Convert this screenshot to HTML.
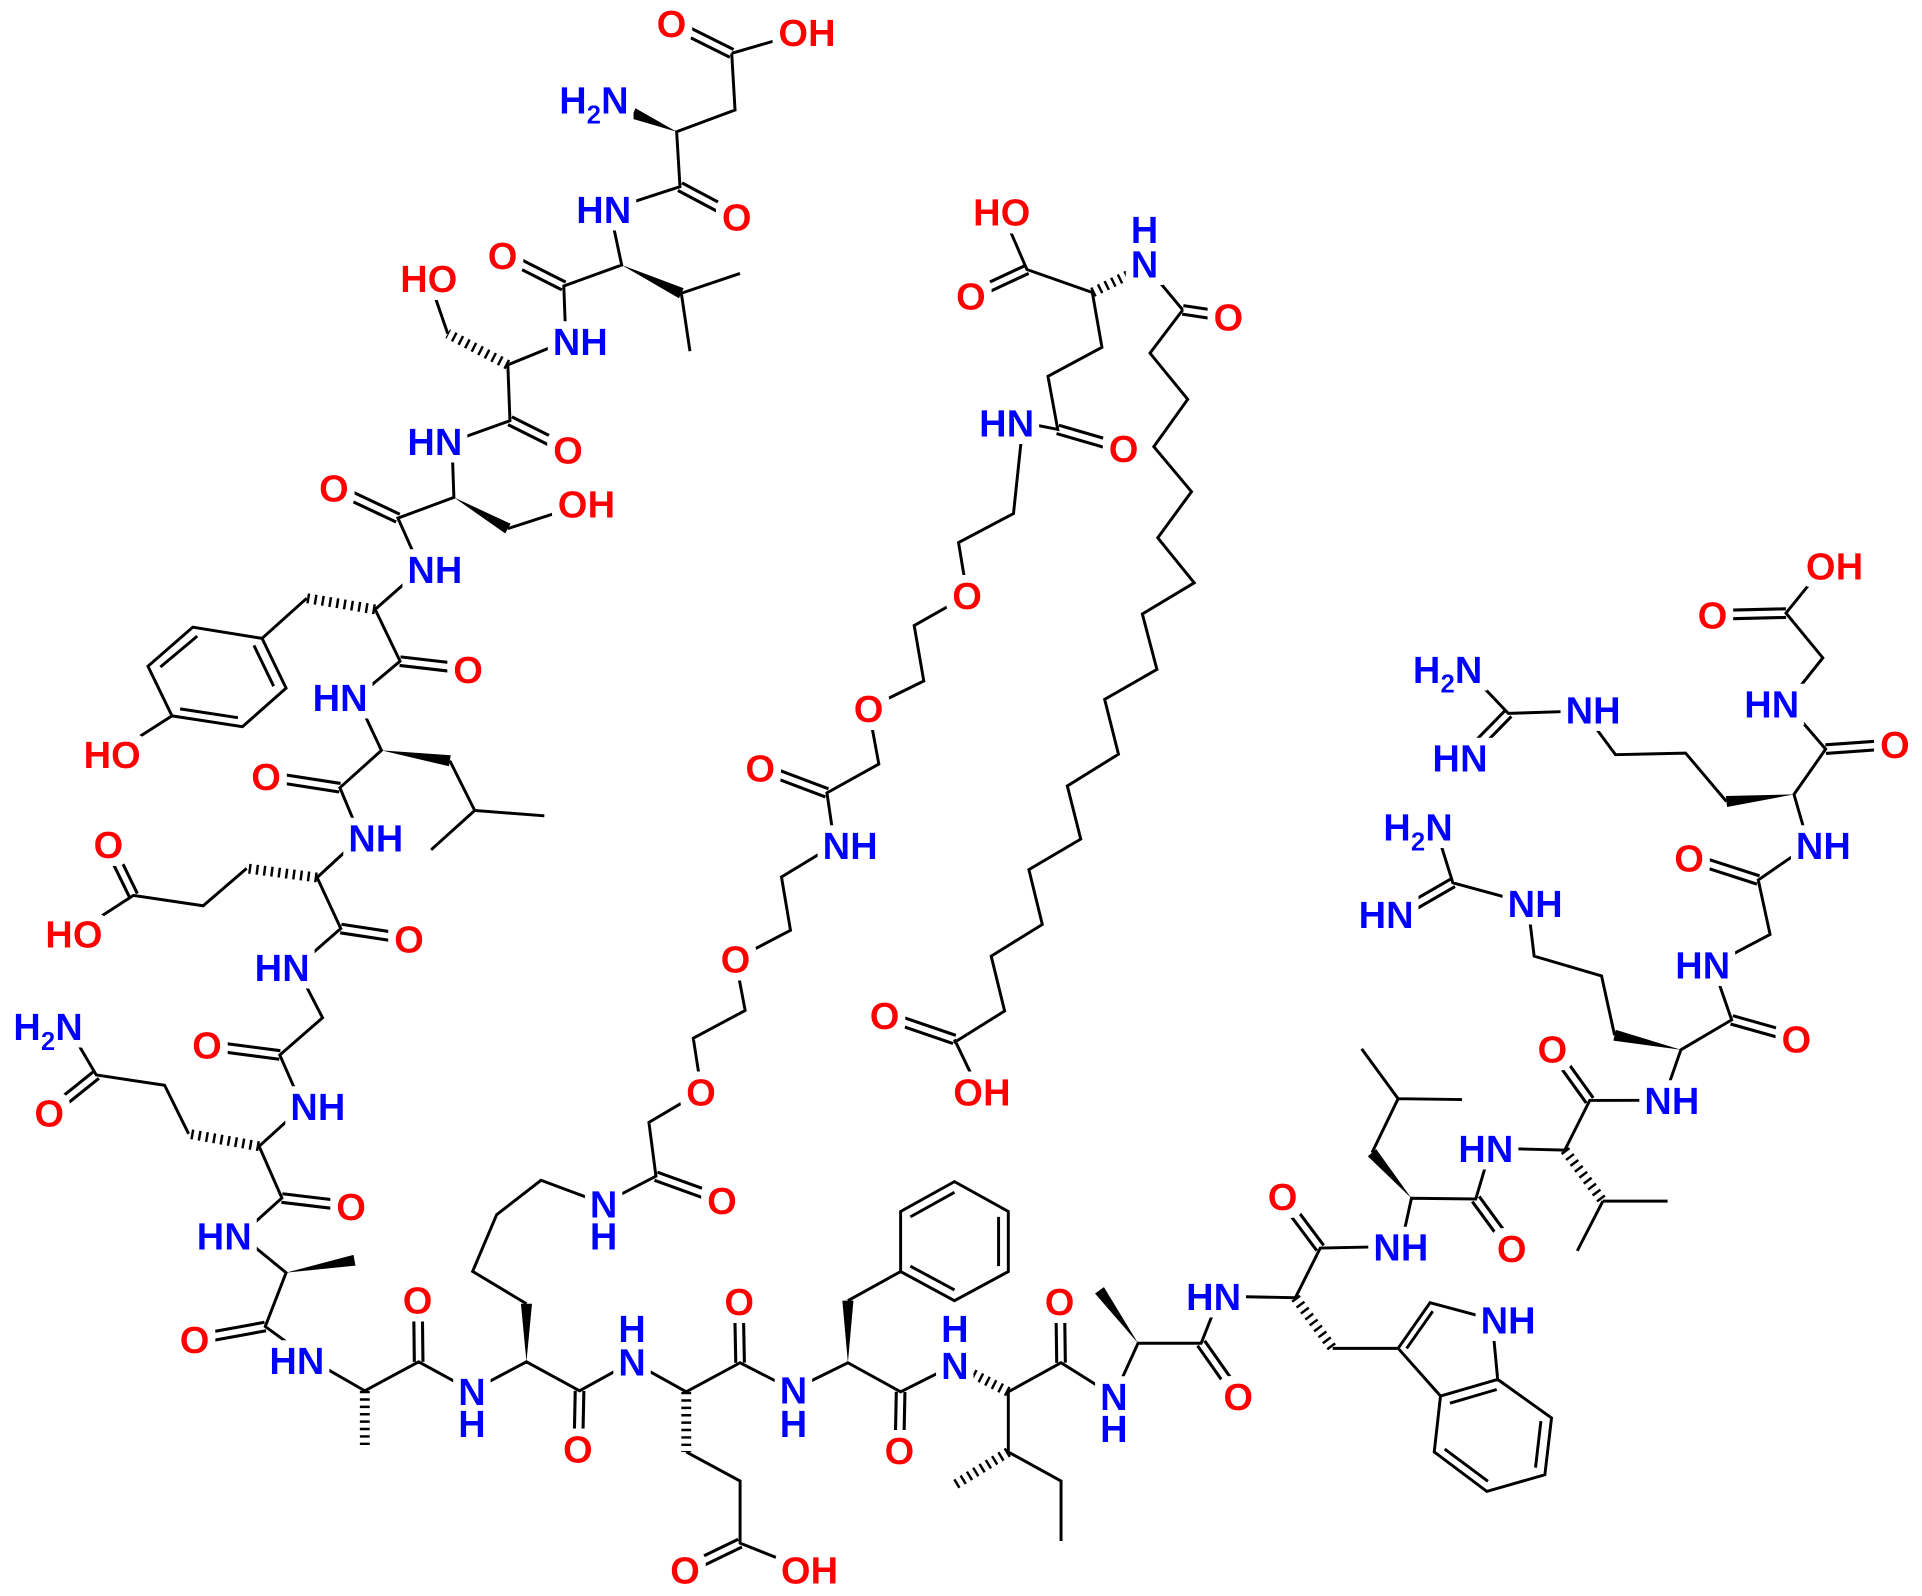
<!DOCTYPE html>
<html><head><meta charset="utf-8"><style>
html,body{margin:0;padding:0;background:#fff;}
svg{display:block;}
text{font-family:"Liberation Sans",Arial,sans-serif;font-weight:bold;font-size:31px;text-anchor:middle;}
.r{fill:#f00}.b{fill:#00f}
</style></head><body>
<svg width="1922" height="1596" viewBox="0 0 1560 1295.3" preserveAspectRatio="none" xmlns="http://www.w3.org/2000/svg">
<defs>
<filter id="halo" filterUnits="userSpaceOnUse" x="0" y="0" width="1560" height="1296">
<feMorphology in="SourceAlpha" operator="dilate" radius="6" result="d"/>
<feFlood flood-color="#fff"/>
<feComposite in2="d" operator="in" result="w"/>
<feMerge><feMergeNode in="w"/><feMergeNode in="SourceGraphic"/></feMerge>
</filter>
</defs>
<g fill="none" stroke-linecap="butt">
<path stroke="#000" stroke-width="9.5" d="
M593.9,43.3L545,19 M551.9,151.5L598,176 M457.6,232.1L408,207 M413.9,341.5L461,365 M323,420.5L271,396
M324.7,536.6L380,543 M275.9,639.3L216,630 M108.3,726.7L88,685 M276.6,753.6L332,762 M227.1,856.2L168,848.5
M78.1,872.4L40,903 M228.8,972.3L285,979 M215.3,1076.6L158,1087 M339.8,1105.2L339.2,1055 M470.4,1128.8L469.4,1176
M532.4,954.6L585.6,973.8 M671.2,643.5L616.6,622.9 M858.5,348.5L911.6,363.9 M833.5,218.7L788.3,239.8 M960,251.5L997.4,257.1
M774.7,843.6L718.5,824.4 M600.7,1106L599.7,1056 M600.7,1252.4L556,1274 M731,1129.6L730,1177 M861.2,1106L860.5,1056
M974.9,1090.2L1005,1133 M1071.6,1012.9L1040.6,971.5 M1197.8,973.1L1227,1013 M1290.3,893.1L1260,851 M1405.5,827.7L1458.5,842.6
M1179.2,716.5L1135,742 M1427.1,714.2L1370.7,696 M1481.8,608L1538,604 M1224.2,579L1190,614 M1449.6,497.6L1390,499"/>
<path stroke="#fff" stroke-width="4.5" d="
M593.9,43.3L545,19 M551.9,151.5L598,176 M457.6,232.1L408,207 M413.9,341.5L461,365 M323,420.5L271,396
M324.7,536.6L380,543 M275.9,639.3L216,630 M108.3,726.7L88,685 M276.6,753.6L332,762 M227.1,856.2L168,848.5
M78.1,872.4L40,903 M228.8,972.3L285,979 M215.3,1076.6L158,1087 M339.8,1105.2L339.2,1055 M470.4,1128.8L469.4,1176
M532.4,954.6L585.6,973.8 M671.2,643.5L616.6,622.9 M858.5,348.5L911.6,363.9 M833.5,218.7L788.3,239.8 M960,251.5L997.4,257.1
M774.7,843.6L718.5,824.4 M600.7,1106L599.7,1056 M600.7,1252.4L556,1274 M731,1129.6L730,1177 M861.2,1106L860.5,1056
M974.9,1090.2L1005,1133 M1071.6,1012.9L1040.6,971.5 M1197.8,973.1L1227,1013 M1290.3,893.1L1260,851 M1405.5,827.7L1458.5,842.6
M1179.2,716.5L1135,742 M1427.1,714.2L1370.7,696 M1481.8,608L1538,604 M1224.2,579L1190,614 M1449.6,497.6L1390,499"/>
<path stroke="#000" stroke-width="2.4" stroke-linejoin="miter" d="
M593.9,43.3L653,26 M593.9,43.3L596.6,89.3L549.2,106.9L551.9,151.5L495,170
M495,170L504.6,215.1L457.6,232.1L459.3,277 M553,238L600.6,221.9 M553,238L560,285
M459.3,277L412.2,296.1 M348,226L363.4,270.8 M412.2,296.1L413.9,341.5L366.8,358.3
M366.8,358.3L368.4,403.7L323,420.5L341.5,462 M412.2,429L474,409
M341.5,462L304.5,494.6L324.7,536.6L289.4,566.2 M249,485.5L212.7,518.1
M212.7,518.1L156.5,509L120.1,540.7L139.6,581L196.8,589.8L232.2,558.5Z
M160.1,516.3L130.2,541.3 M146.2,575.3L193.1,582.5 M222.1,556.9L206.1,523.8 M139.6,581L91,612
M289.4,566.2L309.6,609L275.9,639.3L292.7,679.6 M365.1,617.4L385.3,657.8L441.8,662.1 M385.3,657.8L349.9,689.7
M292.7,679.6L257.4,712.2L276.6,753.6L240.6,785 M200.2,704.8L164.9,735.1L108.3,726.7L60,758
M240.6,785L261.8,826L227.1,856.2L245.6,898.3
M245.6,898.3L210.3,930.3L228.8,972.3L195.2,1002.6 M153.1,920.2L133.6,880.8L78.1,872.4L53.8,831
M195.2,1002.6L232.2,1032.9L215.3,1076.6L252.4,1103.6
M252.4,1103.6L296.1,1128.8L339.8,1105.2L382.9,1128.8
M382.9,1128.8L427.3,1105.2L470.4,1128.8L513.1,1105.2 M427.3,1058.1L383.6,1031.9L403.1,985.8L439.1,957.9L489.6,976.7
M489.6,976.7L532.4,954.6L526.7,910.9L569.4,885.7L562.7,842.6L604.8,820.1L596.9,778.4L641.6,755L634.3,711.8L677.4,685.6L671.2,643.5L713.3,620.1L704.9,574.7L749.8,552.7L742,507.7L785.1,483.3L778,440.3L822.6,416.8L830.4,342.9L858.5,348.5L850.6,305.4L894.4,281.9L886.6,237.4L833.5,218.7L813.2,171.8
M928.7,214L960,251.5
M960,251.5L933.4,286.6L964,324.1L936.5,362.5L967.1,399L939.7,436.5L969.3,473L927.2,498.3L939,543.3L896.6,567.6L907.8,612.1L866.3,637.9L877.2,681L835.1,705.8L846,750.3L804.5,776L815.4,820.5L774.2,846.3
M774.7,843.6L794.9,885.7
M513.1,1105.2L557,1129.6L600.7,1106L643.5,1128 M557,1178.4L600.7,1202L600.7,1252.4L655,1274
M643.5,1128L688.2,1106L731,1129.6L774.7,1107.7 M688.2,1055.6L731,1032
M731,1032L731,983.2L774.7,959L818.4,983.2L818.4,1032L774.7,1055.6Z
M738.9,987.6L774.7,967.7 M810.5,987.6L810.5,1027.6 M774.7,1046.9L738.9,1027.6
M818.4,1129.6L818.4,1178.4L861.2,1202L861.2,1250.7 M818.4,1129.6L861.2,1106L904.2,1133
M904.2,1133L923.7,1090.2L974.9,1090.2L990,1052
M990,1052L1051.4,1053.2L1071.6,1012.9L1125,1011.8 M1081.7,1094.3L1134.8,1094.3
M1134.8,1094.3L1160.7,1057.3L1211,1070.7L1215.6,1119.5L1169.2,1133Z
M1141.7,1094.4L1162.9,1064.2
M1169.2,1133L1164.1,1178.4L1206.8,1210.4L1253.9,1196.9L1259.3,1150.8L1215.6,1119.5
M1214.8,1127.7L1176.9,1138.8 M1172.6,1176L1207.7,1202.2 M1246.3,1191.1L1250.7,1153.3
M1137,1011.8L1145.6,972.5L1197.8,973.1L1210,932 M1113.6,935.5L1134.8,891.7L1105.2,851.3 M1134.8,891.7L1186.6,892.4
M1215,932L1270.1,933.4L1290.3,893.1L1350,893 M1301,974.8L1353.5,974.8 M1301,974.8L1280.2,1015.2
M1350,893L1364.3,852L1405.5,827.7L1390,783 M1310.5,840.2L1299.9,792.1L1245.2,776L1240,733L1179.2,716.5L1165,671
M1390,783L1436.7,758.4L1427.1,714.2L1468,686
M1468,686L1456.1,644.7L1481.8,608L1450,571 M1401.3,650.5L1368.1,611.2L1311.2,612.5L1285,577L1224.2,579L1190,543
M1450,571L1479.5,533.9L1449.6,497.6L1480,460"/>
<path stroke="#000" stroke-width="8" stroke-dasharray="2 4" d="
M412.2,296.1L363.4,270.8 M304.5,494.6L249,485.5 M257.4,712.2L200.2,704.8 M210.3,930.3L153.1,920.2
M296.1,1128.8L296.1,1175.9 M557,1129.6L557,1178.4 M818.4,1129.6L786,1113 M818.4,1178.4L774.7,1205.3
M1051.4,1053.2L1081.7,1094.3 M1270.1,933.4L1301,974.8 M886.6,237.4L920,221"/>
</g>
<g fill="#000">
<polygon points="549.2,106.9 512.2,96.1 515.8,87.9"/>
<polygon points="504.6,215.1 551.1,242.1 554.9,233.9"/>
<polygon points="368.4,403.7 410,432.9 414.5,425.1"/>
<polygon points="309.6,609 364.4,621.9 365.8,613"/>
<polygon points="232.2,1032.9 288.5,1027.2 286.9,1018.4"/>
<polygon points="427.3,1105.2 422.8,1058.1 431.8,1058.1"/>
<polygon points="688.2,1106 683.7,1055.6 692.7,1055.6"/>
<polygon points="923.7,1090.2 896,1044.6 888.8,1049.8"/>
<polygon points="1145.6,972.5 1117,932.6 1110.2,938.4"/>
<polygon points="1364.3,852 1311.5,835.8 1309.5,844.6"/>
<polygon points="1456.1,644.7 1400.8,646 1401.8,655"/>
</g>
<g filter="url(#halo)">
<text class="r" x="545" y="19" dy=".36em">O</text>
<text class="r" x="655" y="26" dy=".36em">OH</text>
<text class="r" x="598" y="176" dy=".36em">O</text>
<text class="r" x="408" y="207" dy=".36em">O</text>
<text class="r" x="348" y="226" dy=".36em">HO</text>
<text class="r" x="461" y="365" dy=".36em">O</text>
<text class="r" x="271" y="396" dy=".36em">O</text>
<text class="r" x="476" y="409" dy=".36em">OH</text>
<text class="r" x="91" y="612" dy=".36em">HO</text>
<text class="r" x="380" y="543" dy=".36em">O</text>
<text class="r" x="216" y="630" dy=".36em">O</text>
<text class="r" x="88" y="685" dy=".36em">O</text>
<text class="r" x="60" y="758" dy=".36em">HO</text>
<text class="r" x="332" y="762" dy=".36em">O</text>
<text class="r" x="168" y="848" dy=".36em">O</text>
<text class="r" x="40" y="903" dy=".36em">O</text>
<text class="r" x="285" y="979" dy=".36em">O</text>
<text class="r" x="158" y="1087" dy=".36em">O</text>
<text class="r" x="339" y="1055" dy=".36em">O</text>
<text class="r" x="469" y="1176" dy=".36em">O</text>
<text class="r" x="586" y="974" dy=".36em">O</text>
<text class="r" x="569" y="886" dy=".36em">O</text>
<text class="r" x="597" y="778" dy=".36em">O</text>
<text class="r" x="617" y="623" dy=".36em">O</text>
<text class="r" x="705" y="575" dy=".36em">O</text>
<text class="r" x="785" y="483" dy=".36em">O</text>
<text class="r" x="912" y="364" dy=".36em">O</text>
<text class="r" x="788" y="240" dy=".36em">O</text>
<text class="r" x="813" y="172" dy=".36em">HO</text>
<text class="r" x="997" y="257" dy=".36em">O</text>
<text class="r" x="718" y="824" dy=".36em">O</text>
<text class="r" x="797" y="886" dy=".36em">OH</text>
<text class="r" x="600" y="1056" dy=".36em">O</text>
<text class="r" x="556" y="1274" dy=".36em">O</text>
<text class="r" x="657" y="1274" dy=".36em">OH</text>
<text class="r" x="730" y="1177" dy=".36em">O</text>
<text class="r" x="860" y="1056" dy=".36em">O</text>
<text class="r" x="1005" y="1133" dy=".36em">O</text>
<text class="r" x="1041" y="971" dy=".36em">O</text>
<text class="r" x="1227" y="1013" dy=".36em">O</text>
<text class="r" x="1260" y="851" dy=".36em">O</text>
<text class="r" x="1458" y="843" dy=".36em">O</text>
<text class="r" x="1371" y="696" dy=".36em">O</text>
<text class="r" x="1538" y="604" dy=".36em">O</text>
<text class="r" x="1390" y="499" dy=".36em">O</text>
<text class="r" x="1489" y="459" dy=".36em">OH</text>

<text class="b" x="482" y="81" dy=".36em">H<tspan font-size="21" dy="8">2</tspan><tspan dy="-8">N</tspan></text>
<text class="b" x="490" y="170" dy=".36em">HN</text>
<text class="b" x="471" y="277" dy=".36em">NH</text>
<text class="b" x="353" y="358" dy=".36em">HN</text>
<text class="b" x="353" y="462" dy=".36em">NH</text>
<text class="b" x="276" y="566" dy=".36em">HN</text>
<text class="b" x="305" y="680" dy=".36em">NH</text>
<text class="b" x="229" y="785" dy=".36em">HN</text>
<text class="b" x="258" y="898" dy=".36em">NH</text>
<text class="b" x="39" y="833" dy=".36em">H<tspan font-size="21" dy="8">2</tspan><tspan dy="-8">N</tspan></text>
<text class="b" x="182" y="1003" dy=".36em">HN</text>
<text class="b" x="241" y="1104" dy=".36em">HN</text>
<text class="b" x="383" y="1129" dy=".36em">N</text>
<text class="b" x="383" y="1155" dy=".36em">H</text>
<text class="b" x="490" y="977" dy=".36em">N</text>
<text class="b" x="490" y="1003" dy=".36em">H</text>
<text class="b" x="513" y="1078" dy=".36em">H</text>
<text class="b" x="513" y="1105" dy=".36em">N</text>
<text class="b" x="644" y="1128" dy=".36em">N</text>
<text class="b" x="644" y="1155" dy=".36em">H</text>
<text class="b" x="775" y="1078" dy=".36em">H</text>
<text class="b" x="775" y="1108" dy=".36em">N</text>
<text class="b" x="904" y="1133" dy=".36em">N</text>
<text class="b" x="904" y="1159" dy=".36em">H</text>
<text class="b" x="985" y="1052" dy=".36em">HN</text>
<text class="b" x="1137" y="1012" dy=".36em">NH</text>
<text class="b" x="1224" y="1071" dy=".36em">NH</text>
<text class="b" x="1206" y="932" dy=".36em">HN</text>
<text class="b" x="1357" y="893" dy=".36em">NH</text>
<text class="b" x="1382" y="783" dy=".36em">HN</text>
<text class="b" x="1151" y="671" dy=".36em">H<tspan font-size="21" dy="8">2</tspan><tspan dy="-8">N</tspan></text>
<text class="b" x="1246" y="733" dy=".36em">NH</text>
<text class="b" x="1125" y="742" dy=".36em">HN</text>
<text class="b" x="1480" y="686" dy=".36em">NH</text>
<text class="b" x="1293" y="576" dy=".36em">NH</text>
<text class="b" x="1175" y="543" dy=".36em">H<tspan font-size="21" dy="8">2</tspan><tspan dy="-8">N</tspan></text>
<text class="b" x="1185" y="615" dy=".36em">HN</text>
<text class="b" x="1438" y="571" dy=".36em">HN</text>
<text class="b" x="690" y="686" dy=".36em">NH</text>
<text class="b" x="817" y="343" dy=".36em">HN</text>
<text class="b" x="929" y="186" dy=".36em">H</text>
<text class="b" x="929" y="214" dy=".36em">N</text>
</g>
</svg>
</body></html>
